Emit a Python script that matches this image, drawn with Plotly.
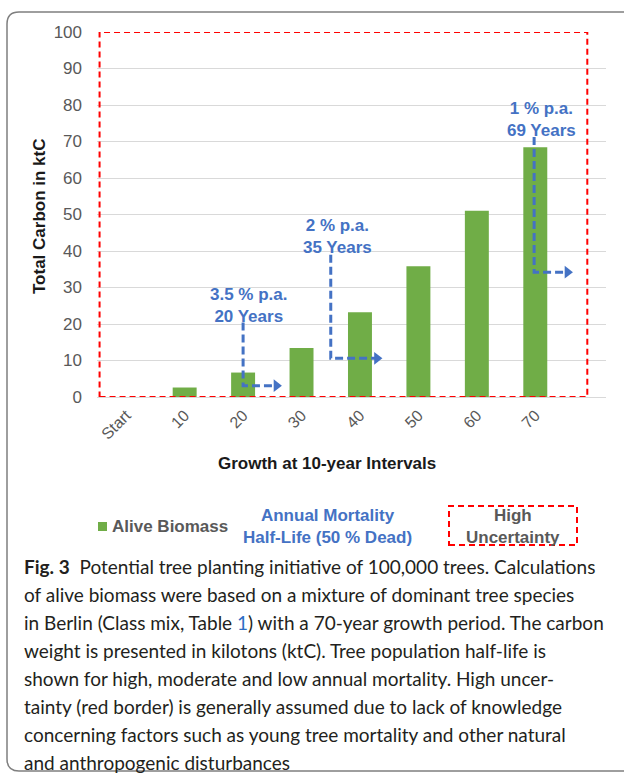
import plotly.graph_objects as go

# ---------------- data ----------------
categories = ["Start", "10", "20", "30", "40", "50", "60", "70"]
alive_biomass = [0, 2.6, 6.7, 13.4, 23.2, 35.8, 51.0, 68.4]

# mortality half-life markers (x in category index units, y in ktC)
mort_labels = ["3.5 % p.a.<br>20 Years", "2 % p.a.<br>35 Years", "1 % p.a.<br>69 Years"]
mort_label_x = [2.10, 3.62, 7.10]
mort_label_y = [25.1, 43.9, 76.1]
mort_x = [2.0, 3.5, 6.98]
mort_top = [20.4, 39.0, 71.2]
mort_bottom = [3.1, 10.6, 34.2]
mort_tip = [2.62, 4.34, 7.60]

y_ticks = [0, 10, 20, 30, 40, 50, 60, 70, 80, 90, 100]

caption_lines = [
    "<b>Fig. 3</b>  Potential tree planting initiative of 100,000 trees. Calculations",
    "of alive biomass were based on a mixture of dominant tree species",
    "in Berlin (Class mix, Table <span style='color:#2b6cc4'>1</span>) with a 70-year growth period. The carbon",
    "weight is presented in kilotons (ktC). Tree population half-life is",
    "shown for high, moderate and low annual mortality. High uncer-",
    "tainty (red border) is generally assumed due to lack of knowledge",
    "concerning factors such as young tree mortality and other natural",
    "and anthropogenic disturbances",
]

# ---------------- layout geometry ----------------
W, H = 624, 774
ML, MR, MT, MB = 97, 18, 32, 377
PW = W - ML - MR
PH = H - MT - MB


def px(xp):
    return (xp - ML) / PW


def py(yp):
    return (H - MB - yp) / PH


GREEN = "#70AD47"
BLUE = "#4472C4"
RED = "#FF0000"
GRAY = "#595959"
FONT = "Liberation Sans, Arial, sans-serif"
CAPFONT = "Lato, Liberation Sans, sans-serif"

fig = go.Figure()

fig.add_trace(go.Bar(
    x=list(range(len(categories))), y=alive_biomass,
    marker=dict(color=GREEN, line=dict(width=0)),
    width=0.41, name="Alive Biomass", showlegend=False,
))

for i in range(len(mort_x)):
    fig.add_trace(go.Scatter(
        x=[mort_x[i], mort_x[i], mort_tip[i] - 0.07],
        y=[mort_top[i], mort_bottom[i], mort_bottom[i]],
        mode="lines", line=dict(color=BLUE, width=3, dash="8px,4px"),
        showlegend=False, hoverinfo="skip",
    ))
    fig.add_trace(go.Scatter(
        x=[mort_tip[i] - 0.05], y=[mort_bottom[i]],
        mode="markers", marker=dict(symbol="triangle-right", size=11, color=BLUE),
        showlegend=False, hoverinfo="skip",
    ))

annotations = []
for i in range(len(mort_labels)):
    annotations.append(dict(
        x=mort_label_x[i], y=mort_label_y[i], xref="x", yref="y",
        xanchor="center", yanchor="middle",
        text="<b>" + mort_labels[i] + "</b>", showarrow=False,
        font=dict(family=FONT, size=17, color=BLUE), align="center",
    ))

# axis titles
annotations.append(dict(
    x=px(327), y=py(463), xref="paper", yref="paper",
    xanchor="center", yanchor="middle",
    text="<b>Growth at 10-year Intervals</b>", showarrow=False,
    font=dict(family=FONT, size=17, color="#1a1a1a"),
))
annotations.append(dict(
    x=px(40), y=py(216), xref="paper", yref="paper", textangle=-90,
    xanchor="center", yanchor="middle",
    text="<b>Total Carbon in ktC</b>", showarrow=False,
    font=dict(family=FONT, size=17, color="#1a1a1a"),
))

# legend-like items
annotations.append(dict(
    x=px(110), y=py(526), xref="paper", yref="paper",
    xanchor="left", yanchor="middle",
    text="<b>Alive Biomass</b>", showarrow=False,
    font=dict(family=FONT, size=17, color=GRAY),
))
annotations.append(dict(
    x=px(327), y=py(526), xref="paper", yref="paper",
    xanchor="center", yanchor="middle",
    text="<b>Annual Mortality<br>Half-Life (50 % Dead)</b>", showarrow=False,
    font=dict(family=FONT, size=17, color=BLUE), align="center",
))
annotations.append(dict(
    x=px(513), y=py(526), xref="paper", yref="paper",
    xanchor="center", yanchor="middle",
    text="<b>High<br>Uncertainty</b>", showarrow=False,
    font=dict(family=FONT, size=17, color=GRAY), align="center",
))

# caption
for k, line in enumerate(caption_lines):
    annotations.append(dict(
        x=px(22), y=py(566 + 28 * k), xref="paper", yref="paper",
        xanchor="left", yanchor="middle", text=line, showarrow=False,
        font=dict(family=CAPFONT, size=19, color="#231f20"), align="left",
    ))

shapes = [
    # high uncertainty box around chart
    dict(type="rect", xref="x", yref="y", x0=-0.456, x1=7.89, y0=0, y1=100,
         line=dict(color=RED, width=2, dash="6px,4px"), layer="above"),
    # legend green square
    dict(type="rect", xref="paper", yref="paper", x0=px(98), x1=px(107),
         y0=py(531), y1=py(522), fillcolor=GREEN, line=dict(width=0)),
    # legend red dashed box
    dict(type="rect", xref="paper", yref="paper", x0=px(449), x1=px(577),
         y0=py(545), y1=py(506), line=dict(color=RED, width=2, dash="6px,4px")),
]

# outer rounded frame
x0, y0, x1, y1, r = 7, 12, 650, 771, 12
path = (f"M {px(x1)},{py(y0)} L {px(x0 + r)},{py(y0)} "
        f"Q {px(x0)},{py(y0)} {px(x0)},{py(y0 + r)} "
        f"L {px(x0)},{py(y1 - r)} Q {px(x0)},{py(y1)} {px(x0 + r)},{py(y1)} "
        f"L {px(x1)},{py(y1)}")
shapes.append(dict(type="path", xref="paper", yref="paper", path=path,
                   line=dict(color="#7f7f7f", width=1.5)))

fig.update_layout(
    width=W, height=H,
    margin=dict(l=ML, r=MR, t=MT, b=MB, autoexpand=False),
    paper_bgcolor="white", plot_bgcolor="white",
    font=dict(family=FONT),
    bargap=0.5,
    annotations=annotations, shapes=shapes,
    xaxis=dict(
        range=[-0.5, 8.21], tickmode="array",
        tickvals=list(range(len(categories))), ticktext=categories,
        tickangle=-45, tickfont=dict(family=FONT, size=16, color=GRAY),
        showgrid=False, zeroline=False, showline=False, ticks="",
        ticklabelstandoff=5, fixedrange=True,
    ),
    yaxis=dict(
        range=[0, 100], tickmode="array", tickvals=y_ticks,
        tickfont=dict(family=FONT, size=17, color=GRAY),
        showgrid=True, gridcolor="#D9D9D9", gridwidth=1.3,
        zeroline=True, zerolinecolor="#D9D9D9", zerolinewidth=1.3,
        showline=False, ticks="", ticklabelstandoff=14, fixedrange=True,
    ),
)

fig.write_html("out.html", config={"displayModeBar": False},
               post_script="document.body.style.margin='0';")
